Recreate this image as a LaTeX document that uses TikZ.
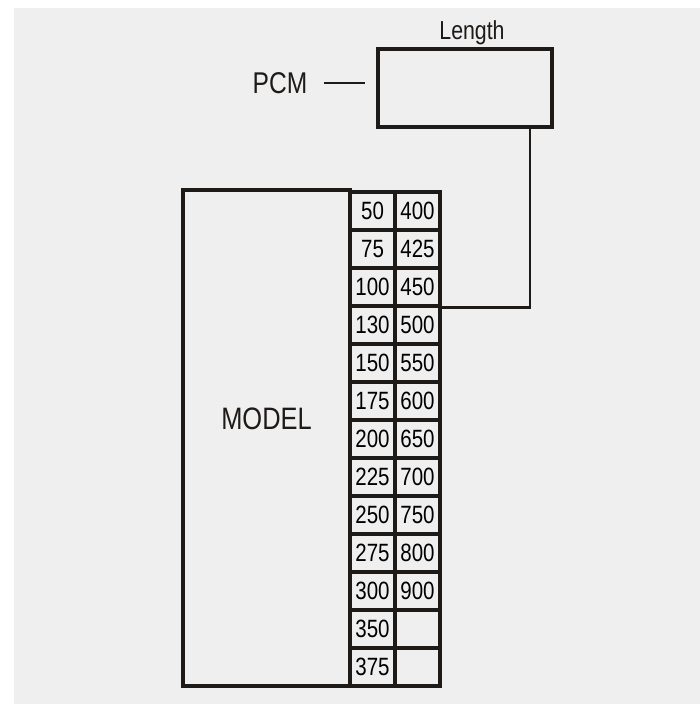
\documentclass[tikz,border=0pt]{standalone}
\usepackage{fontspec}
\setmainfont{Liberation Sans}[FakeStretch=0.82]
\usetikzlibrary{positioning}
\definecolor{bggray}{RGB}{239,239,239}
\definecolor{ink}{RGB}{30,26,24}
\tikzset{box/.style={draw=ink,line width=3.2pt,inner sep=0pt},
  cell/.style={box,minimum width=45pt,minimum height=38pt,font=\fontsize{25}{30}\selectfont},
  wire/.style={draw=ink,line width=2.6pt}}

\begin{document}
\begin{tikzpicture}[x=1pt,y=-1pt,
  big/.style={font=\fontsize{30}{36}\selectfont,text=ink}]
\useasboundingbox (0,0) rectangle (700,704);
\fill[bggray] (14,8) rectangle (700,704);
\node[box,minimum width=174pt,minimum height=78pt] (len) at (465,88) {};
\node[above=2pt of len,xshift=7pt,inner sep=0pt,font=\fontsize{26}{30}\selectfont,text=ink] (lenlab) {Length};
\node[big,inner sep=0pt] (pcm) at (280,83) {PCM};
\draw[wire,line width=2.2pt,shorten <=16pt,shorten >=11pt] (pcm.east) -- (pcm.east -| len.west);
\node[box,minimum width=167pt,minimum height=496pt,
  label={[big,yshift=19pt,font=\fontsize{31}{36}\selectfont]center:MODEL}] (model) at (266.5,438) {};
\foreach \i/\a/\b in {1/50/400,2/75/425,3/100/450,4/130/500,5/150/550,6/175/600,7/200/650,
  8/225/700,9/250/750,10/275/800,11/300/900,12/350/{},13/375/{}}{
  \node[cell] (a\i) at (372.5,{173+38*\i}) {\a};
  \node[cell] (b\i) at (417.5,{173+38*\i}) {\b};
}
\draw[wire] (b3.south east) -| ([xshift=65pt]len.south);
\end{tikzpicture}
\end{document}
